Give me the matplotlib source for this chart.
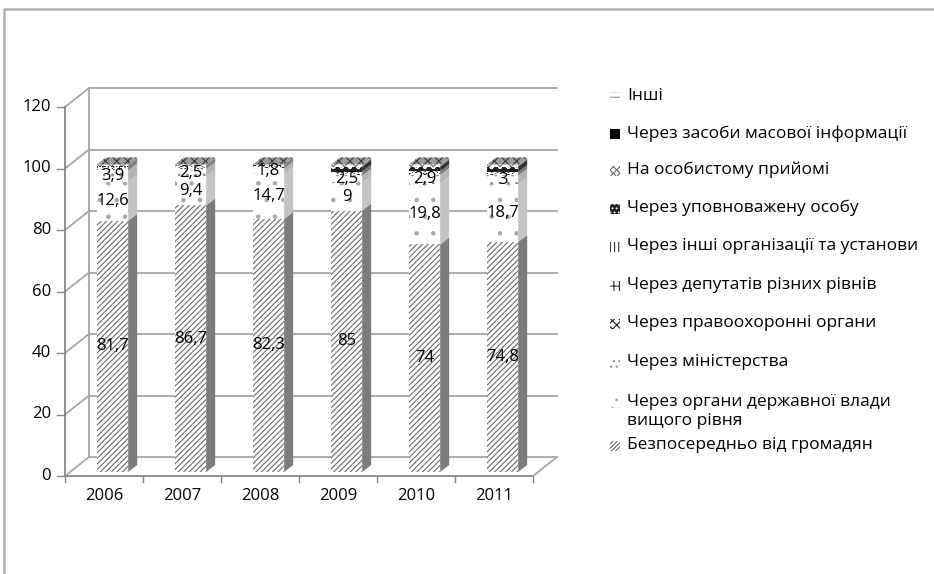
import matplotlib.pyplot as plt
from matplotlib.patches import Polygon, Rectangle

plt.rcParams['font.family'] = ['Open Sans', 'DejaVu Sans']
plt.rcParams['hatch.linewidth'] = 0.8

years = ['2006', '2007', '2008', '2009', '2010', '2011']

# ряди знизу догори
direct = [81.7, 86.7, 82.3, 85, 74, 74.8]
higher_gov = [12.6, 9.4, 14.7, 9, 19.8, 18.7]
ministries = [3.9, 2.5, 1.8, 2.5, 2.9, 3]
police = [0.4, 0.3, 0.3, 0.5, 0.4, 0.4]
deputies = [0.3, 0.2, 0.2, 0.3, 0.3, 0.3]
other_orgs = [0.3, 0.3, 0.2, 0.4, 0.4, 0.4]
authorized = [0.2, 0.2, 0.2, 1.6, 1.5, 1.7]
reception = [0.4, 0.2, 0.1, 0.4, 0.4, 0.4]
media = [0.1, 0.1, 0.1, 0.1, 0.1, 0.1]
other = [0.1, 0.1, 0.1, 0.2, 0.2, 0.2]

names = ['Безпосередньо від громадян',
         'Через органи державної влади\nвищого рівня',
         'Через міністерства',
         'Через правоохоронні органи',
         'Через депутатів різних рівнів',
         'Через інші організації та установи',
         'Через уповноважену особу',
         'На особистому прийомі',
         'Через засоби масової інформації',
         'Інші']
values = [direct, higher_gov, ministries, police, deputies,
          other_orgs, authorized, reception, media, other]
labelled = 3  # підписи лише на трьох нижніх рядах

# (фон, колір штриховки, штриховка, бічна грань)
styles = [('white', '#6a6a6a', '//////', '#7c7c7c'),
          ('white', '#a8a8a8', '.', '#c4c4c4'),
          ('white', '#8c8c8c', '..', '#b4b4b4'),
          ('white', '#202020', 'xx', '#555555'),
          ('white', '#303030', '++', '#666666'),
          ('white', '#303030', '|||', '#666666'),
          ('#202020', 'white', 'oo', '#333333'),
          ('white', '#707070', 'xxx', '#888888'),
          ('black', 'black', '', '#222222'),
          ('white', '#909090', '--', '#aaaaaa')]
# для маленьких квадратиків легенди - густіша штриховка
legend_hatch = ['////////', '..', '...', 'xxxx', '+++', '||||', '....', 'xxxxx', '', '---']

yticks = [0, 20, 40, 60, 80, 100, 120]

# масштаб: 78 px на категорію, 3.075 px на одиницю
XS, YS = 78.0, 3.075
DX, DY = 24 / XS, 19 / YS          # глибина стінок
BX, BY = 9 / XS, 7 / YS            # глибина стовпчика
BAR_L, BAR_W, LIFT = -0.09, 0.40, 1.3

fig = plt.figure(figsize=(9.34, 5.74), dpi=100)
ax = fig.add_axes([0, 0, 1, 1])
ax.set_xlim(-0.5 - 65 / XS, -0.5 + (934 - 65) / XS)
ax.set_ylim((476 - 574) / YS, 476 / YS)
ax.axis('off')

grid_c = '#a6a6a6'
x0, x1 = -0.5, len(years) - 0.5

# сітка на задній і лівій стінках
for v in yticks:
    ax.plot([x0 + DX, x1 + DX], [v + DY, v + DY], color=grid_c, lw=1.3, zorder=1)
    ax.plot([x0, x0 + DX], [v, v + DY], color=grid_c, lw=1.3, zorder=1)
    ax.plot([x0 - 8 / XS, x0], [v, v], color='#888888', lw=1, zorder=1)
    ax.text(x0 - 14 / XS, v, str(v), ha='right', va='center', fontsize=12)
ax.plot([x0 + DX, x0 + DX], [DY, yticks[-1] + DY], color=grid_c, lw=1.3, zorder=1)
ax.plot([x0, x0], [0, yticks[-1]], color='#888888', lw=1.3, zorder=1)
# підлога
ax.plot([x0, x1], [0, 0], color='#888888', lw=1.3, zorder=1)
ax.plot([x1, x1 + DX], [0, DY], color=grid_c, lw=1.3, zorder=1)
for k in range(len(years) + 1):
    ax.plot([x0 + k, x0 + k], [0, -6 / YS], color='#888888', lw=1, zorder=1)
for i, y in enumerate(years):
    ax.text(i, -6.4, y, ha='center', va='center', fontsize=12)

# стовпчики
xs = [i + BAR_L for i in range(len(years))]
bottoms = [LIFT] * len(years)
for s, vals in enumerate(values):
    fc, hc, hatch, sc = styles[s]
    ax.bar(xs, vals, width=BAR_W, bottom=bottoms, align='edge',
           color=fc, edgecolor=hc, hatch=hatch, linewidth=0, zorder=3)
    for i, v in enumerate(vals):
        xr = xs[i] + BAR_W
        b, t = bottoms[i], bottoms[i] + v
        ax.add_patch(Polygon([(xr, b), (xr + BX, b + BY), (xr + BX, t + BY), (xr, t)],
                             closed=True, facecolor=sc, edgecolor='none', zorder=3))
        if s < labelled:
            ax.text(xs[i] + BAR_W / 2, b + v / 2, f'{v:g}'.replace('.', ','),
                    ha='center', va='center', fontsize=12, zorder=5)
    bottoms = [bottoms[i] + vals[i] for i in range(len(years))]

# верхня грань
for i in range(len(years)):
    t = bottoms[i]
    ax.add_patch(Polygon([(xs[i], t), (xs[i] + BAR_W, t), (xs[i] + BAR_W + BX, t + BY),
                          (xs[i] + BX, t + BY)], closed=True, facecolor='#9a9a9a',
                         edgecolor='#3a3a3a', hatch='xxx', linewidth=0, zorder=4))

# рамка та легенда в піксельних координатах
ov = fig.add_axes([0, 0, 1, 1])
ov.set_xlim(0, 934)
ov.set_ylim(574, 0)
ov.axis('off')
ov.patch.set_alpha(0)
ov.plot([4, 4, 934], [574, 9, 9], color='#b0b0b0', lw=1.8)

legend_y = [446, 403, 363, 324, 286, 247, 209, 171, 134, 97]
for s, name in enumerate(names):
    fc, hc, hatch, sc = styles[s]
    yc = legend_y[s]
    ov.add_patch(Rectangle((610, yc - 5), 10, 10, facecolor=fc, edgecolor=hc,
                           hatch=legend_hatch[s], linewidth=0))
    ov.text(627, yc - 9, name, ha='left', va='top', fontsize=12.5, linespacing=1.25)

fig.savefig('out.png', dpi=100)
